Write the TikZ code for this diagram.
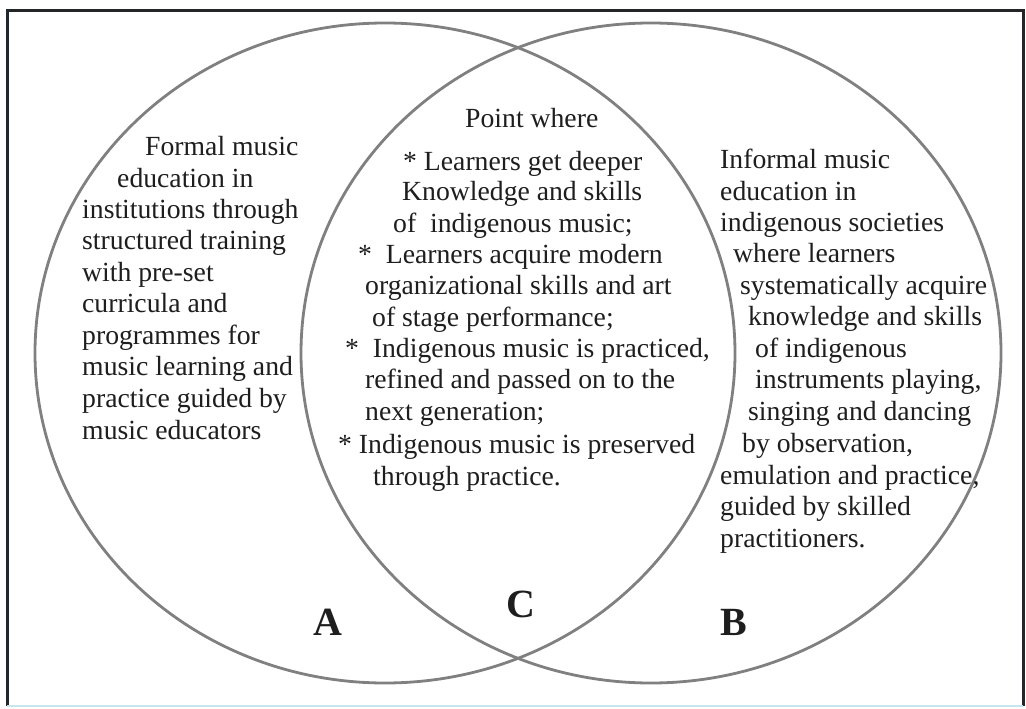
\documentclass[tikz,border=0pt]{standalone}
\usepackage{fontspec}
\setmainfont{Liberation Serif}
\usetikzlibrary{shapes.geometric}
\definecolor{ringc}{RGB}{128,128,128}
\definecolor{ink}{RGB}{30,30,30}
\definecolor{framec}{RGB}{35,38,40}
\definecolor{framelow}{RGB}{200,228,236}
\begin{document}
\begin{tikzpicture}[x=1pt,y=-1pt,
  txt/.style={anchor=base west,inner sep=0pt,text=ink,font=\fontsize{27.7}{31.7}\selectfont},
  setlabel/.style={anchor=base,inner sep=0pt,text=ink,font=\fontsize{40}{44}\selectfont\bfseries},
  setring/.style={ellipse,draw=ringc,line width=2.8pt,minimum width=700pt,minimum height=660pt,inner sep=0pt}]
\useasboundingbox (0,0) rectangle (1026,709);
\fill[white] (0,0) rectangle (1026,709);
% frame
\draw[framec,line width=3pt] (7,706) -- (7,11) -- (1023,11) -- (1023,706);
\draw[framelow,line width=2pt] (7,706) -- (1023,706);
% sets
\node[setring] (setA) at (385,353) {};
\node[setring] (setB) at (651,353) {};
% left text
\foreach \t/\x/\y [count=\i] in {
  {Formal music}/145/155,
  {education in}/117/187,
  {institutions through}/82/218,
  {structured training}/82/249,
  {with pre-set}/82/281,
  {curricula and}/82/312,
  {programmes for}/82/344,
  {music learning and}/82/375,
  {practice guided by}/82/407,
  {music educators}/82/439}
  \node[txt] (L\i) at (\x,\y) {\t};
% centre text
\foreach \t/\x/\y [count=\i] in {
  {Point where}/465/127,
  {* Learners get deeper}/403/170,
  {Knowledge and skills}/402/200,
  {of\ \ indigenous music;}/393/232,
  {*\ \ Learners acquire modern}/358/263,
  {organizational skills and art}/365/294,
  {of stage performance;}/372/326,
  {*\ \ Indigenous music is practiced,}/345/357,
  {refined and passed on to the}/365/388,
  {next generation;}/365/420,
  {* Indigenous music is preserved}/338/453,
  {through practice.}/373/485}
  \node[txt] (C\i) at (\x,\y) {\t};
% right text
\foreach \t/\x/\y [count=\i] in {
  {Informal music}/720/168,
  {education in}/720/200,
  {indigenous societies}/720/231,
  {where learners}/733/262,
  {systematically acquire}/740/294,
  {knowledge and skills}/748/325,
  {of indigenous}/755/357,
  {instruments playing,}/755/388,
  {singing and dancing}/748/420,
  {by observation,}/742/452,
  {emulation and practice,}/720/484,
  {guided by skilled}/720/515,
  {practitioners.}/720/547}
  \node[txt] (R\i) at (\x,\y) {\t};
% labels
\node[setlabel] (labA) at (328,635) {A};
\node[setlabel] (labC) at (521,617) {C};
\node[setlabel] (labB) at (734,635) {B};
\end{tikzpicture}
\end{document}
